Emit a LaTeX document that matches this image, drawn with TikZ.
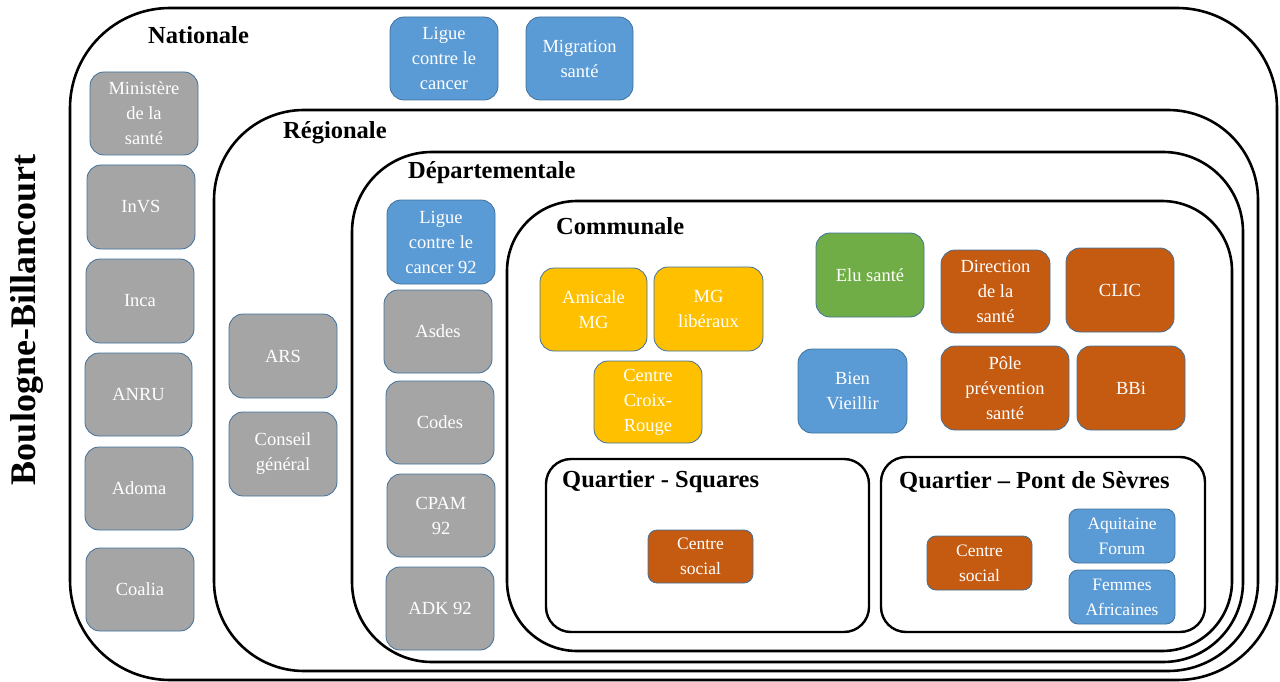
\documentclass[tikz,border=0pt]{standalone}
\usepackage{fontspec}
\setmainfont{Liberation Serif}
\definecolor{cgray}{HTML}{A5A5A5}
\definecolor{cblue}{HTML}{5B9BD5}
\definecolor{cgold}{HTML}{FFC000}
\definecolor{cgreen}{HTML}{70AD47}
\definecolor{corange}{HTML}{C55A11}
\definecolor{cedge}{HTML}{41719C}
\newcommand\bx[7]{\node[#2, minimum width={(#5-#3)*1pt}, minimum height={(#6-#4)*1pt}] (#1) at ({(#3+#5)/2},{(#4+#6)/2}) {#7};}
\newcommand\ct[6]{\node[container, rounded corners=#6, minimum width={(#4-#2)*1pt}, minimum height={(#5-#3)*1pt}] (#1) at ({(#2+#4)/2},{(#3+#5)/2}) {};}
\begin{document}
\begin{tikzpicture}[x=1pt,y=-1pt,
  box/.style={draw=cedge, line width=0.8pt, rounded corners=14pt, text=white, align=center,
    font=\fontsize{18.5}{25}\selectfont, inner sep=0pt},
  gbox/.style={box, fill=cgray},
  bbox/.style={box, fill=cblue},
  ybox/.style={box, fill=cgold},
  vbox/.style={box, fill=cgreen},
  obox/.style={box, fill=corange},
  sbox/.style={box, rounded corners=9pt, font=\fontsize{17.5}{25}\selectfont},
  container/.style={draw=black, line width=2.6pt, inner sep=0pt},
  title/.style={font=\fontsize{24.5}{28}\selectfont\bfseries, anchor=west, inner sep=0pt}]
\useasboundingbox (0,0) rectangle (1280,682);
% nodes
\bx{min}{gbox}{90}{72}{198}{155}{Ministère\\de la\\santé}
\bx{invs}{gbox}{87}{165}{195}{249}{InVS}
\bx{inca}{gbox}{86}{259}{194}{343}{Inca}
\bx{anru}{gbox}{85}{353}{192}{436}{ANRU}
\bx{adoma}{gbox}{85}{447}{193}{530}{Adoma}
\bx{coalia}{gbox}{86}{548}{194}{631}{Coalia}
\bx{ligue}{bbox}{390}{17}{498}{100}{Ligue\\contre le\\cancer}
\bx{migr}{bbox}{526}{17}{633}{100}{Migration\\santé}
\bx{ars}{gbox}{229}{314}{337}{398}{ARS}
\bx{cg}{gbox}{229}{412}{337}{496}{Conseil\\général}
\bx{ligue92}{bbox}{387}{200}{495}{284}{Ligue\\contre le\\cancer 92}
\bx{asdes}{gbox}{384}{290}{492}{373}{Asdes}
\bx{codes}{gbox}{386}{381}{494}{464}{Codes}
\bx{cpam}{gbox}{387}{474}{495}{557}{CPAM\\92}
\bx{adk}{gbox}{386}{567}{494}{650}{ADK 92}
\bx{amicale}{ybox}{540}{268}{647}{351}{Amicale\\MG}
\bx{mglib}{ybox}{654}{267}{763}{351}{MG\\libéraux}
\bx{croix}{ybox}{594}{361}{702}{443}{Centre\\Croix-\\Rouge}
\bx{elu}{vbox}{816}{233}{924}{317}{Elu santé}
\bx{bien}{bbox}{798}{349}{907}{433}{Bien\\Vieillir}
\bx{dir}{obox}{941}{250}{1050}{333}{Direction\\de la\\santé}
\bx{clic}{obox}{1066}{248}{1174}{332}{CLIC}
\bx{pole}{obox}{941}{346}{1069}{430}{Pôle\\prévention\\santé}
\bx{bbi}{obox}{1077}{346}{1185}{430}{BBi}
\bx{cs1}{obox,sbox}{648}{530}{753}{583}{Centre\\social}
\bx{cs2}{obox,sbox}{927}{536}{1032}{590}{Centre\\social}
\bx{aqui}{bbox,sbox}{1069}{509}{1175}{563}{Aquitaine\\Forum}
\bx{femmes}{bbox,sbox}{1069}{570}{1175}{624}{Femmes\\Africaines}
% containers
\ct{nat}{70}{8}{1277}{680}{100pt}
\ct{reg}{214}{110}{1258}{671}{90pt}
\ct{dep}{352}{152}{1243}{662}{80pt}
\ct{com}{507}{201}{1232}{651}{70pt}
\node[container, line width=2.4pt, rounded corners=25pt, minimum width=323pt, minimum height=173pt] (squares) at (707.5,545.5) {};
\node[container, line width=2.4pt, rounded corners=25pt, minimum width=324pt, minimum height=175pt] (pont) at (1043,544.5) {};
% titles
\node[title] (tnat) at (148,35) {Nationale};
\node[title] (treg) at (283,133) {Régionale};
\node[title] (tdep) at (408,173) {Départementale};
\node[title] (tcom) at (556,226) {Communale};
\node[title] (tsq) at (562,482) {Quartier - Squares};
\node[title] (tpont) at (899,482) {Quartier -- Pont de Sèvres};
\node[font=\fontsize{36}{40}\selectfont\bfseries, rotate=90, inner sep=0pt] (city) at (27,320) {Boulogne-Billancourt};
\end{tikzpicture}
\end{document}
